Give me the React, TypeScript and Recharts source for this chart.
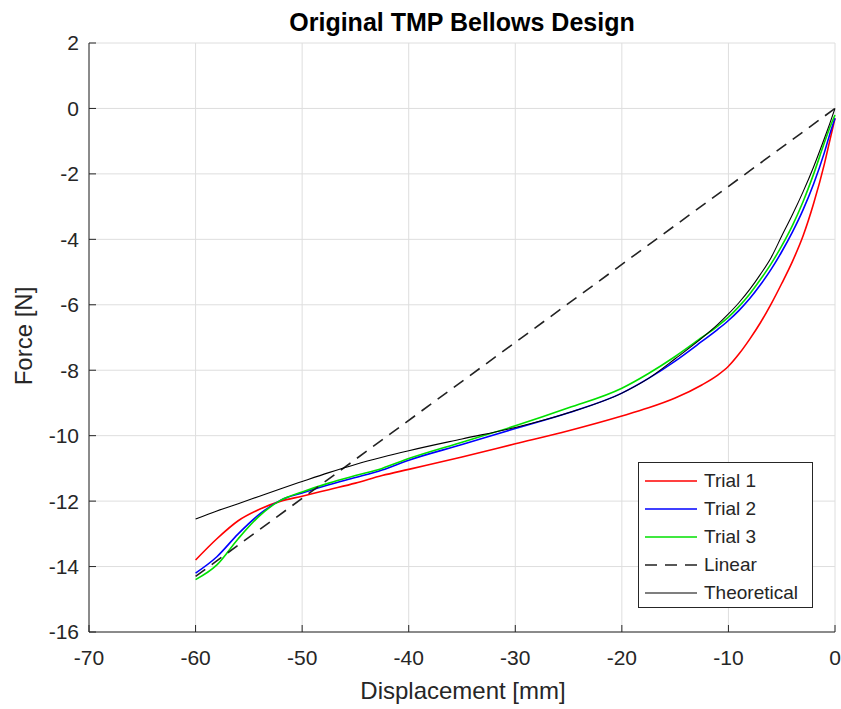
import React from 'react';
import {
  LineChart,
  Line,
  XAxis,
  YAxis,
  CartesianGrid,
  Label,
} from 'recharts';

// displacement [mm]
const displacement = [
  -60, -58, -56, -54, -52, -50, -47.5, -45, -42.5, -40, -35, -30, -25, -20,
  -17.5, -15, -12.5, -11, -10, -9, -8, -7, -6, -5, -4, -3, -2, -1, -0.5, 0,
];

// force [N] per trial
const trial1 = [
  -13.8, -13.15, -12.6, -12.25, -12.0, -11.85, -11.65, -11.45, -11.22, -11.03,
  -10.65, -10.25, -9.85, -9.4, -9.15, -8.85, -8.45, -8.15, -7.88, -7.5, -7.05,
  -6.55, -5.98, -5.35, -4.68, -3.9, -2.9, -1.7, -1.0, -0.3,
];
const trial2 = [
  -14.2, -13.7, -13.0, -12.4, -11.97, -11.75, -11.5, -11.28, -11.05, -10.75,
  -10.27, -9.78, -9.3, -8.7, -8.25, -7.72, -7.12, -6.75, -6.48, -6.17, -5.81,
  -5.39, -4.92, -4.38, -3.78, -3.1, -2.3, -1.35, -0.8, -0.3,
];
const trial3 = [
  -14.4, -13.95, -13.15, -12.45, -11.97, -11.72, -11.45, -11.22, -11.0, -10.7,
  -10.2, -9.7, -9.15, -8.55, -8.1, -7.58, -7.0, -6.65, -6.38, -6.05, -5.67,
  -5.23, -4.75, -4.2, -3.58, -2.85, -2.0, -1.05, -0.6, -0.2,
];
const theoretical = [
  -12.55, -12.3, -12.08, -11.85, -11.62, -11.4, -11.13, -10.88, -10.66, -10.46,
  -10.1, -9.75, -9.3, -8.7, -8.25, -7.65, -7.02, -6.6, -6.28, -5.93, -5.53,
  -5.07, -4.56, -3.9, -3.25, -2.55, -1.78, -0.92, -0.47, 0,
];

// linear reference (end points)
const linearX = [-60, 0];
const linearY = [-14.3, 0];

const xTicks = [-70, -60, -50, -40, -30, -20, -10, 0];
const yTicks = [-16, -14, -12, -10, -8, -6, -4, -2, 0, 2];

const series = [
  { key: 'trial1', name: 'Trial 1', color: '#ff0000' },
  { key: 'trial2', name: 'Trial 2', color: '#0000ff' },
  { key: 'trial3', name: 'Trial 3', color: '#00e000' },
];

const FONT = '"Liberation Sans", Arial, Helvetica, sans-serif';
const TEXT = '#262626';

const rows = displacement.map((x, i) => ({
  x,
  trial1: trial1[i],
  trial2: trial2[i],
  trial3: trial3[i],
  theoretical: theoretical[i],
}));

const linearRows = linearX.map((x, i) => ({ x, linear: linearY[i] }));

const legendItems = [
  ...series.map((s) => ({ name: s.name, color: s.color, dash: undefined as string | undefined, w: 1.6 })),
  { name: 'Linear', color: '#222', dash: '12 8', w: 1.6 },
  { name: 'Theoretical', color: '#000', dash: undefined, w: 1.2 },
];

const XTitle = () => (
  <text x={463} y={699} textAnchor="middle" fontSize={24} fill={TEXT} fontFamily={FONT}>
    Displacement [mm]
  </text>
);

const YTitle = () => (
  <text
    x={32}
    y={336}
    textAnchor="middle"
    transform="rotate(-90 32 336)"
    fontSize={24}
    fill={TEXT}
    fontFamily={FONT}
  >
    Force [N]
  </text>
);

export default function App() {
  const tickStyle = { fontSize: 21, fill: TEXT, fontFamily: FONT };
  return (
    <div style={{ position: 'absolute', left: 0, top: 0, width: 841, height: 709, background: '#fff' }}>
      <div
        style={{
          position: 'absolute',
          left: 89,
          top: 10,
          width: 746,
          textAlign: 'center',
          fontFamily: FONT,
          fontWeight: 'bold',
          fontSize: 25,
          lineHeight: 1,
          color: '#000',
        }}
      >
        Original TMP Bellows Design
      </div>
      <LineChart
        width={841}
        height={709}
        data={rows}
        margin={{ top: 43, right: 6, bottom: 0, left: 0 }}
      >
        <CartesianGrid stroke="#dedede" strokeWidth={1} />
        <XAxis
          dataKey="x"
          type="number"
          domain={[-70, 0]}
          ticks={xTicks}
          height={77}
          tickSize={-7}
          tickMargin={25}
          tick={tickStyle}
          stroke={TEXT}
        >
          <Label content={<XTitle />} />
        </XAxis>
        <XAxis
          xAxisId="top"
          orientation="top"
          type="number"
          domain={[-70, 0]}
          ticks={xTicks}
          height={0}
          tickSize={-7}
          tick={false}
          stroke={TEXT}
        />
        <YAxis
          type="number"
          domain={[-16, 2]}
          ticks={yTicks}
          width={89}
          tickSize={-7}
          tickMargin={17}
          tick={tickStyle}
          stroke={TEXT}
        >
          <Label content={<YTitle />} />
        </YAxis>
        <YAxis
          yAxisId="right"
          orientation="right"
          type="number"
          domain={[-16, 2]}
          ticks={yTicks}
          width={0}
          tickSize={-7}
          tick={false}
          stroke={TEXT}
        />
        {series.map((s) => (
          <Line
            key={s.key}
            type="monotone"
            dataKey={s.key}
            name={s.name}
            stroke={s.color}
            strokeWidth={1.6}
            dot={false}
            isAnimationActive={false}
          />
        ))}
        <Line
          data={linearRows}
          dataKey="linear"
          name="Linear"
          stroke="#222"
          strokeWidth={1.6}
          strokeDasharray="12 8"
          dot={false}
          isAnimationActive={false}
        />
        <Line
          type="monotone"
          dataKey="theoretical"
          name="Theoretical"
          stroke="#000"
          strokeWidth={1.1}
          dot={false}
          isAnimationActive={false}
        />
      </LineChart>
      <div
        style={{
          position: 'absolute',
          left: 638,
          top: 462,
          width: 175,
          height: 146,
          boxSizing: 'border-box',
          border: `1px solid ${TEXT}`,
          background: '#fff',
          paddingTop: 4,
        }}
      >
        {legendItems.map((it) => (
          <div
            key={it.name}
            style={{ display: 'flex', alignItems: 'center', height: 28, fontFamily: FONT, fontSize: 19, color: TEXT }}
          >
            <svg width={52} height={10} style={{ marginLeft: 6, marginRight: 7 }}>
              <line
                x1={0}
                y1={5}
                x2={52}
                y2={5}
                stroke={it.color}
                strokeWidth={it.w}
                strokeDasharray={it.dash}
              />
            </svg>
            <span>{it.name}</span>
          </div>
        ))}
      </div>
    </div>
  );
}
